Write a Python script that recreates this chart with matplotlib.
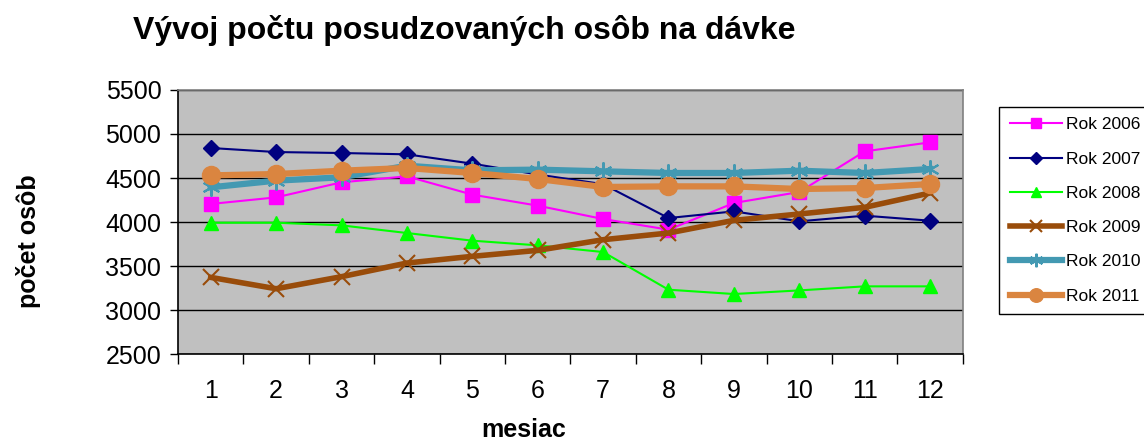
import matplotlib
matplotlib.use("Agg")
import matplotlib.pyplot as plt
import numpy as np

plt.rcParams['font.family'] = ['Liberation Sans', 'DejaVu Sans']

months = [1, 2, 3, 4, 5, 6, 7, 8, 9, 10, 11, 12]
rok_2006 = [4205, 4280, 4451, 4519, 4311, 4186, 4034, 3913, 4216, 4341, 4803, 4905]
rok_2007 = [4841, 4795, 4784, 4769, 4663, 4540, 4430, 4045, 4121, 4008, 4072, 4015]
rok_2008 = [3992, 3992, 3962, 3875, 3788, 3735, 3659, 3231, 3182, 3223, 3269, 3269]
rok_2009 = [3371, 3242, 3379, 3534, 3610, 3678, 3799, 3875, 4019, 4091, 4167, 4330]
rok_2010 = [4394, 4470, 4508, 4640, 4587, 4595, 4576, 4557, 4557, 4583, 4557, 4602]
rok_2011 = [4530, 4545, 4583, 4614, 4557, 4489, 4398, 4405, 4405, 4375, 4386, 4432]

series = [
    ("Rok 2006", rok_2006, "#FF00FF", 1.5, "s", 10),
    ("Rok 2007", rok_2007, "#000080", 1.5, "D", 8),
    ("Rok 2008", rok_2008, "#00FF00", 1.5, "^", 10),
    ("Rok 2009", rok_2009, "#994C0A", 4, "x", 12),
    ("Rok 2010", rok_2010, "#4399B2", 4.5, (6, 2, 0), 13),
    ("Rok 2011", rok_2011, "#DA8540", 4.5, "o", 13),
]

fig = plt.figure(figsize=(11.44, 4.42), dpi=100)
ax = fig.add_axes([0.1556, 0.199, 0.686, 0.5974])
ax.set_facecolor("#C0C0C0")

for label, vals, color, lw, marker, ms in series:
    mew = 1.5 if marker in ("x", (6, 2, 0)) else 1
    ax.plot(months, vals, color=color, linewidth=lw, marker=marker, markersize=ms,
            markerfacecolor=color, markeredgecolor=color, markeredgewidth=mew,
            label=label, solid_joinstyle='miter')

ax.set_xlim(0.5, 12.5)
ax.set_ylim(2500, 5500)
ax.set_yticks(np.arange(2500, 5501, 500))
ax.yaxis.grid(True, color="black", linewidth=1)
ax.set_axisbelow(True)

ax.set_xticks(months)
ax.set_xticks(np.arange(0.5, 12.6, 1), minor=True)
ax.tick_params(axis='x', which='major', length=0, pad=18, labelsize=18)
ax.tick_params(axis='x', which='minor', length=7, width=1, direction='out')
ax.tick_params(axis='y', length=6, width=1, labelsize=18, pad=6)

ax.spines['left'].set_color('black')
ax.spines['bottom'].set_color('black')
ax.spines['top'].set_color('#808080')
ax.spines['right'].set_color('#808080')
for s in ax.spines.values():
    s.set_linewidth(1.2)

fig.text(0.406, 0.93, "Vývoj počtu posudzovaných osôb na dávke", fontsize=23,
         fontweight='bold', ha='center', va='center')
fig.text(0.025, 0.455, "počet osôb", fontsize=18, fontweight='bold', rotation=90,
         ha='center', va='center')
fig.text(0.458, 0.028, "mesiac", fontsize=18, fontweight='bold', ha='center', va='center')

leg = fig.legend(loc='upper left', bbox_to_anchor=(0.866, 0.778), fontsize=12.5,
                 frameon=True, fancybox=False, edgecolor='black', framealpha=1,
                 numpoints=1, handlelength=3.0, labelspacing=1.1, borderpad=0.6,
                 handletextpad=0.25, markerscale=0.75)
leg.get_frame().set_linewidth(1)

fig.savefig("out.png", dpi=100)
